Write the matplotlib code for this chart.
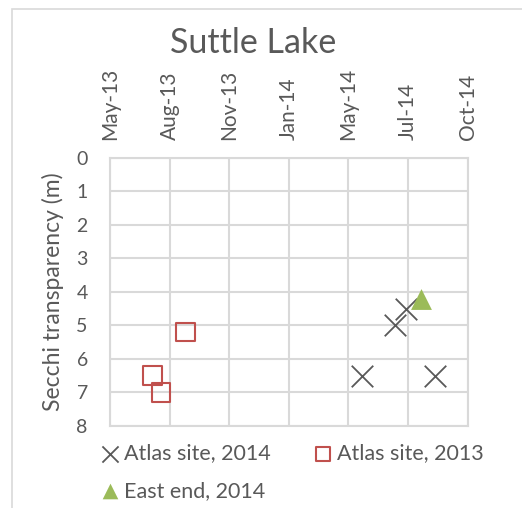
import numpy as np
import pandas as pd
import matplotlib
matplotlib.use('Agg')
import matplotlib.pyplot as plt
import matplotlib.dates as mdates
from matplotlib.patches import Rectangle

plt.rcParams['font.family'] = ['Lato', 'DejaVu Sans']

# data
atlas14_dates = pd.to_datetime(['2014-05-21', '2014-07-10', '2014-07-27', '2014-09-09'])
atlas14_depth = [6.5, 5.0, 4.5, 6.5]
atlas13_dates = pd.to_datetime(['2013-07-09', '2013-07-22', '2013-08-28'])
atlas13_depth = [6.5, 7.0, 5.2]
east14_dates = pd.to_datetime(['2014-08-19'])
east14_depth = [4.2]

txt = '#595959'
grid = '#D9D9D9'

fig = plt.figure(figsize=(5.22, 5.08), dpi=100)
fig.patches.append(Rectangle((12 / 522, -0.1), 1.2, 1 - 9 / 508 + 0.1,
                             transform=fig.transFigure, fill=False,
                             edgecolor=grid, linewidth=1.2))
ax = fig.add_axes([110 / 522, 1 - 426 / 508, 357.7 / 522, 268.3 / 508])

h1 = ax.scatter(atlas14_dates, atlas14_depth, marker='x', s=15.5 ** 2,
                color=txt, linewidths=1.3, label='Atlas site, 2014', zorder=3)
h2 = ax.scatter(atlas13_dates, atlas13_depth, marker='s', s=13.5 ** 2,
                facecolors='none', edgecolors='#C0504D', linewidths=1.5,
                label='Atlas site, 2013', zorder=3)
h3 = ax.scatter(east14_dates, east14_depth, marker='^', s=15 ** 2,
                color='#9BBB59', linewidths=0, label='East end, 2014', zorder=3)

start = pd.Timestamp('2013-05-06')
ticks = [start + pd.Timedelta(days=90 * i) for i in range(7)]
ax.set_xlim(ticks[0], ticks[-1])
ax.set_xticks(ticks)
ax.xaxis.set_major_formatter(mdates.DateFormatter('%b-%y'))
ax.xaxis.tick_top()
ax.tick_params(axis='x', labelrotation=90, length=0, pad=13,
               labelsize=15, labelcolor=txt)

ax.set_ylim(8, 0)
ax.set_yticks(range(9))
ax.tick_params(axis='y', length=0, pad=16, labelsize=14, labelcolor=txt)
ax.set_ylabel('Secchi transparency (m)', fontsize=16.5, color=txt, labelpad=9)

ax.grid(True, color=grid, linewidth=1.5)
ax.set_axisbelow(True)
for s in ax.spines.values():
    s.set_color(grid)
    s.set_linewidth(1.5)

fig.text(253 / 522, 1 - 43 / 508, 'Suttle Lake', ha='center', va='center',
         fontsize=24.5, color=txt)

fig.legend([h1, h3, h2], ['Atlas site, 2014', 'East end, 2014', 'Atlas site, 2013'],
           ncol=2, loc='upper left', bbox_to_anchor=(80 / 522, 1 - 424 / 508),
           frameon=False, fontsize=15.5, labelcolor=txt, handletextpad=0.15,
           columnspacing=1.9, handlelength=1.0, labelspacing=0.8,
           markerscale=0.75)

fig.savefig('out.png', dpi=100)
